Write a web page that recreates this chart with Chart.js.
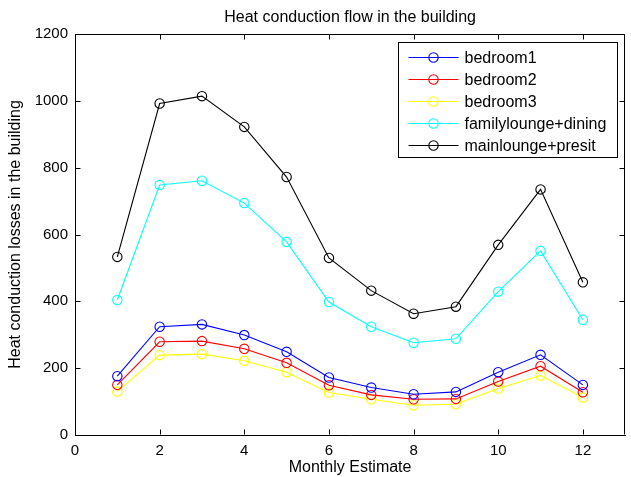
<!DOCTYPE html>
<html><head><meta charset="utf-8">
<script src="https://cdn.jsdelivr.net/npm/chart.js@4/dist/chart.umd.min.js"></script>
<style>html,body{margin:0;padding:0;background:#fff}</style>
</head><body>
<canvas id="c" width="631" height="477" style="display:block"></canvas>
<script>
const months = [1,2,3,4,5,6,7,8,9,10,11,12];
const bedroom1 = [176,324,331,299,249,172,142,122,129,188,240,150];
const bedroom2 = [150,279,281,258,216,149,120,107,108,160,206,128];
const bedroom3 = [130,239,242,222,188,127,107,89,92,139,178,112];
const familyLoungeDining = [404,748,761,694,578,398,324,276,288,429,551,345];
const mainLoungePresit = [533,992,1014,922,772,530,432,363,384,569,735,457];
const seriesNames = ['bedroom1','bedroom2','bedroom3','familylounge+dining','mainlounge+presit'];
const seriesColors = ['#0000ff','#ff0000','#ffff00','#00ffff','#000000'];
const seriesValues = [bedroom1,bedroom2,bedroom3,familyLoungeDining,mainLoungePresit];
const yTicks = [0,200,400,600,800,1000,1200];
const xTicks = [0,2,4,6,8,10,12];

const FONT = '"Liberation Sans", Arial, sans-serif';

const datasets = seriesValues.map((vals,i)=>({
  label: seriesNames[i],
  data: months.map((m,j)=>({x:m,y:vals[j]})),
  borderColor: seriesColors[i],
  backgroundColor: 'transparent',
  pointBorderColor: seriesColors[i],
  pointBackgroundColor: 'transparent',
  pointRadius: 4.7,
  pointBorderWidth: 1.1,
  borderWidth: 1.1,
  tension: 0,
  fill: false
}));

const boxPlugin = {
  id: 'boxTicks',
  afterDraw(chart){
    const ctx = chart.ctx, a = chart.chartArea;
    const xs = chart.scales.x, ys = chart.scales.y;
    ctx.save();
    ctx.strokeStyle = '#000';
    ctx.lineWidth = 1;
    ctx.beginPath();
    const L = Math.round(a.left)+0.5, R = Math.round(a.right)-0.5, T = Math.round(a.top)+0.5, B = Math.round(a.bottom)-0.5;
    ctx.moveTo(L,T); ctx.lineTo(R,T); ctx.lineTo(R,B);
    const tl = 5;
    xTicks.forEach(v=>{
      const p = Math.round(xs.getPixelForValue(v))+0.5;
      ctx.moveTo(p,B); ctx.lineTo(p,B-tl);
      ctx.moveTo(p,T); ctx.lineTo(p,T+tl);
    });
    yTicks.forEach(v=>{
      const p = Math.round(ys.getPixelForValue(v))+0.5;
      ctx.moveTo(L,p); ctx.lineTo(L+tl,p);
      ctx.moveTo(R,p); ctx.lineTo(R-tl,p);
    });
    ctx.stroke();

    // legend
    const bw = 219, bh = 115;
    const bx = Math.round(a.right - 8 - bw)+0.5, by = Math.round(a.top + 8)+0.5;
    ctx.fillStyle = '#fff';
    ctx.fillRect(bx,by,bw,bh);
    ctx.strokeRect(bx,by,bw,bh);
    ctx.font = '16px ' + FONT;
    ctx.textBaseline = 'middle';
    ctx.textAlign = 'left';
    chart.data.datasets.forEach((ds,i)=>{
      const y = Math.round(by + 14.5 + i*22)+0.5;
      ctx.strokeStyle = ds.borderColor;
      ctx.lineWidth = 1.1;
      ctx.beginPath();
      ctx.moveTo(bx+10,y); ctx.lineTo(bx+60,y);
      ctx.stroke();
      ctx.beginPath();
      ctx.arc(bx+35,y,4.7,0,Math.PI*2);
      ctx.stroke();
      ctx.fillStyle = '#000';
      ctx.fillText(ds.label, bx+66, y+1);
    });
    ctx.restore();
  }
};

new Chart(document.getElementById('c'), {
  type: 'line',
  data: { datasets },
  options: {
    responsive: false,
    animation: false,
    layout: { padding: { left: 0, right: 1, top: 0, bottom: 0 } },
    plugins: {
      legend: { display: false },
      tooltip: { enabled: false },
      title: {
        display: true,
        fullSize: false,
        text: 'Heat conduction flow in the building',
        color: '#000',
        font: { family: FONT, size: 16, weight: 'normal' },
        padding: { top: 8, bottom: 6.8 }
      }
    },
    scales: {
      x: {
        type: 'linear',
        min: 0, max: 13,
        grid: { display: false, drawTicks: false },
        border: { display: true, color: '#000', width: 1 },
        ticks: { stepSize: 2, includeBounds: false, color: '#000', padding: 7, maxRotation: 0,
                 font: { family: FONT, size: 15 }, callback: v => String(v) },
        title: { display: true, text: 'Monthly Estimate', color: '#000',
                 font: { family: FONT, size: 16 }, padding: { top: 0, bottom: 0 } },
        afterFit(s){ s.height = 42; }
      },
      y: {
        min: 0, max: 1200,
        grid: { display: false, drawTicks: false },
        border: { display: true, color: '#000', width: 1 },
        ticks: { stepSize: 200, color: '#000', padding: 7,
                 font: { family: FONT, size: 15 }, callback: v => String(v) },
        title: { display: true, text: 'Heat conduction losses in the building', color: '#000',
                 font: { family: FONT, size: 16 }, padding: { top: 6, bottom: 0 } },
        afterFit(s){ s.width = 75; }
      }
    }
  },
  plugins: [boxPlugin]
});
</script>
</body></html>
